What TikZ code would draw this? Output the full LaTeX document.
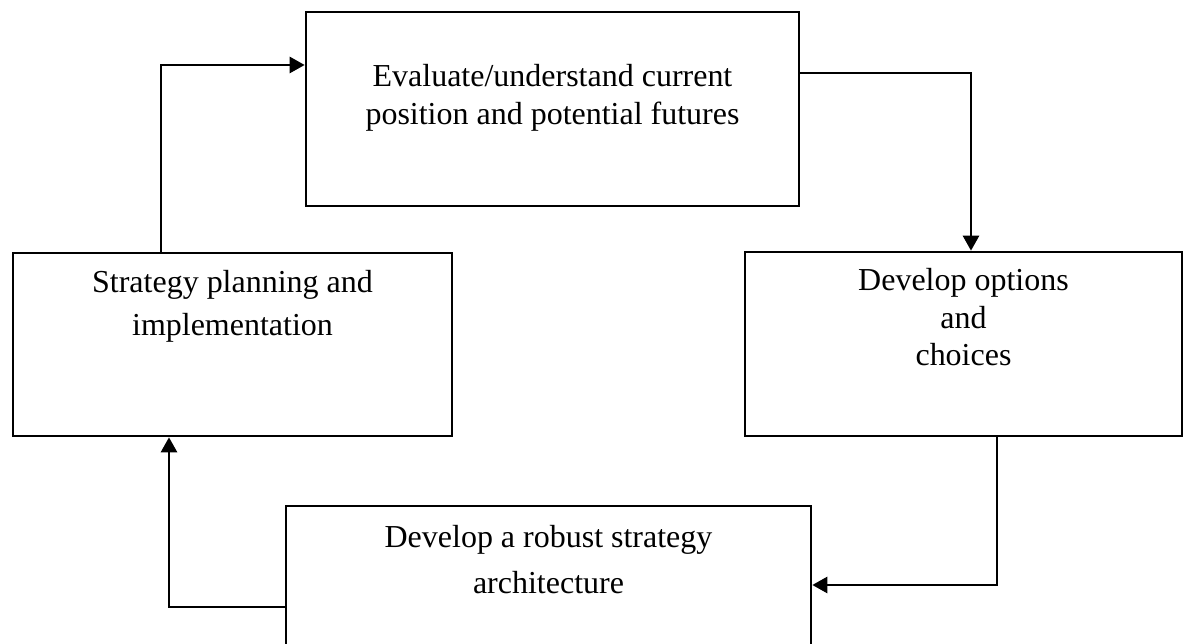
\documentclass[tikz,border=0pt]{standalone}
\usepackage{fontspec}
\setmainfont{Liberation Serif}
\usetikzlibrary{arrows.meta,positioning}
\tikzset{
  stepbox/.style={rectangle,draw,line width=1.5pt,inner sep=0pt},
  txt/.style={align=center,inner sep=0pt,outer sep=0pt,
    font=\fontsize{18.2}{#1}\selectfont},
  arr/.style={-{Triangle[length=3mm,width=3.2mm]},line width=1.5pt}
}
\begin{document}
\begin{tikzpicture}
  \useasboundingbox (0,0) rectangle (23.66,12.88);
  % the four stages of the cycle
  \node[stepbox,minimum width=9.86cm,minimum height=3.88cm] (eval) at (11.05,10.70) {};
  \node[stepbox,minimum width=8.74cm,minimum height=3.68cm] (opts) at (19.27,6.00) {};
  \node[stepbox,minimum width=10.5cm,minimum height=2.96cm] (robust) at (10.97,1.28) {};
  \node[stepbox,minimum width=8.78cm,minimum height=3.66cm] (strat) at (4.65,5.99) {};
  % texts sit near the top of each box
  \node[txt=21.6pt,below=1.08cm of eval.north] (evaltxt)
    {Evaluate/understand current\\position and potential futures};
  \node[txt=21.3pt,below=0.36cm of opts.north] (optstxt)
    {Develop options\\and\\choices};
  \node[txt=26.2pt,below=0.42cm of robust.north] (robusttxt)
    {Develop a robust strategy\\architecture};
  \node[txt=24.5pt,below=0.38cm of strat.north] (strattxt)
    {Strategy planning and\\implementation};
  % connectors, clockwise
  \draw[arr] ([xshift=-1.43cm]strat.north) |- ([yshift=8.8mm]eval.west);
  \draw[arr] ([yshift=7.2mm]eval.east) -| ([xshift=1.5mm]opts.north);
  \draw[arr] ([xshift=6.7mm]opts.south) |- ([yshift=-1mm]robust.east);
  \draw[arr] ([yshift=-5.4mm]robust.west) -| ([xshift=-12.7mm]strat.south);
\end{tikzpicture}
\end{document}
